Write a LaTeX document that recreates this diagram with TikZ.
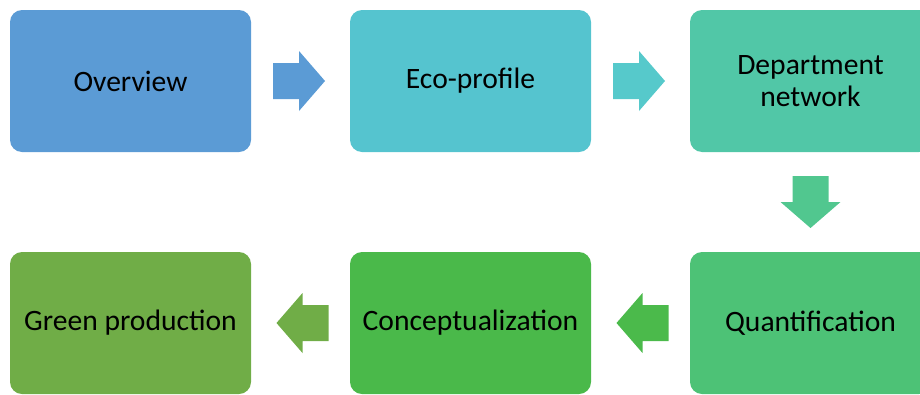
\documentclass[tikz,border=0pt]{standalone}
\usepackage{fontspec}
\setmainfont{Carlito}
\usetikzlibrary{calc}
\definecolor{cOver}{HTML}{5B9BD5}
\definecolor{cEco}{HTML}{55C4CF}
\definecolor{cEcoA}{HTML}{56C9CB}
\definecolor{cDept}{HTML}{51C7A7}
\definecolor{cDeptA}{HTML}{51C78F}
\definecolor{cQuant}{HTML}{4DC276}
\definecolor{cQuantA}{HTML}{4BBA4B}
\definecolor{cConc}{HTML}{4AB94A}
\definecolor{cGreen}{HTML}{70AD47}
\tikzset{
  box/.style={rectangle, rounded corners=12pt, minimum width=241pt, minimum height=142pt,
    inner sep=0pt, align=center, text=black, font=\fontsize{29.6}{32}\selectfont},
  blockarrow/.pic={\fill[pic actions] (-26,-18) -- (0,-18) -- (0,-30) -- (26,0) -- (0,30) -- (0,18) -- (-26,18) -- cycle;}
}
\begin{document}
\begin{tikzpicture}[x=1pt,y=-1pt]
\useasboundingbox (0,0) rectangle (920,394);
\clip (0,0) rectangle (920,394);
\node[box, fill=cOver] (ov) at (130.5,81) {Overview};
\node[box, fill=cEco] (eco) at (470.5,81) {Eco-profile};
\node[box, fill=cDept] (dept) at (810.5,81) {Department\\network};
\node[box, fill=cQuant] (quant) at (810.5,323) {Quantification};
\node[box, fill=cConc] (conc) at (470.5,323) {Conceptualization};
\node[box, fill=cGreen] (green) at (130.5,323) {Green production};
\pic[fill=cOver] at ($(ov.east)!0.5!(eco.west)+(-1.5,0)$) {blockarrow};
\pic[fill=cEcoA] at ($(eco.east)!0.5!(dept.west)+(-1.5,0)$) {blockarrow};
\pic[fill=cDeptA, rotate=-90] at ($(dept.south)!0.5!(quant.north)$) {blockarrow};
\pic[fill=cQuantA, rotate=180] at ($(quant.west)!0.5!(conc.east)+(2,0)$) {blockarrow};
\pic[fill=cGreen, rotate=180] at ($(conc.west)!0.5!(green.east)+(2,0)$) {blockarrow};
\end{tikzpicture}
\end{document}
